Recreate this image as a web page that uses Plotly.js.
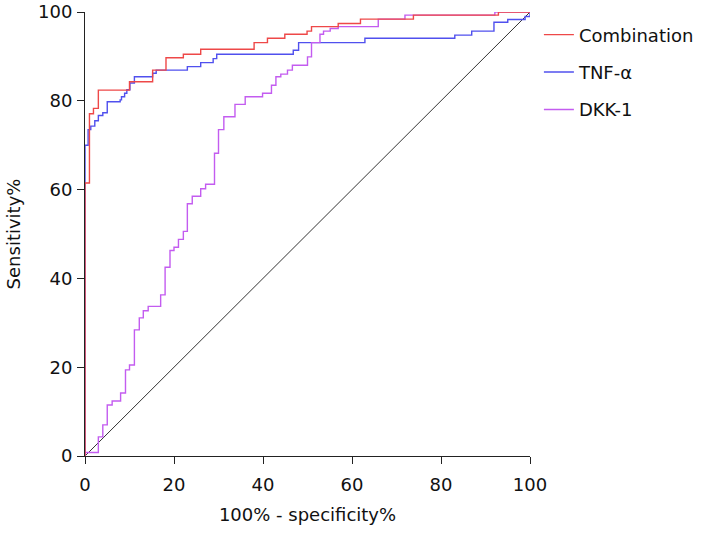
<!DOCTYPE html>
<html>
<head>
<meta charset="utf-8">
<script src="https://cdn.plot.ly/plotly-3.0.1.min.js"></script>
<style>html,body{margin:0;padding:0;background:#fff;}#chart{width:708px;height:533px;}</style>
</head>
<body>
<div id="chart"></div>
<script>
// ROC curves: corner points of step curves (x = 100% - specificity%, y = sensitivity%)
const seriesNames = ["Combination", "TNF-\u03b1", "DKK-1"];
const combinationX = [0, 0, 1.0, 1.9, 3.0, 10.0, 15.2, 18.2, 22.1, 26.0, 38.0, 41.0, 44.9, 49.9, 50.9, 56.9, 61.9, 73.8, 92.9, 100];
const combinationY = [0, 61.5, 77.1, 78.3, 82.4, 84.3, 86.9, 89.7, 90.5, 91.6, 93.1, 94.1, 95.0, 95.7, 96.7, 97.4, 98.4, 99.3, 100, 100];
const tnfX = [0, 0, 0.7, 1.3, 2.2, 3.0, 4.0, 5.0, 7.9, 8.2, 8.9, 9.4, 10.1, 11.1, 15.2, 16.0, 23.0, 26.0, 28.8, 29.6, 46.8, 48.0, 62.9, 83.1, 86.9, 91.9, 95.0, 98.9, 100];
const tnfY = [0, 70, 73.5, 74.3, 75.5, 76.7, 77.3, 79.8, 80.2, 80.9, 81.7, 82.5, 84.0, 85.4, 86.2, 86.9, 87.7, 88.6, 89.5, 90.5, 91.4, 93.1, 94.1, 94.8, 95.7, 97.7, 98.3, 99.0, 100];
const dkkX = [0, 0, 3.0, 4.0, 5.0, 6.1, 8.0, 9.1, 10.0, 11.1, 12.2, 13.1, 14.2, 17.0, 18.0, 19.1, 20.0, 21.0, 22.1, 23.0, 24.1, 26.0, 27.1, 29.1, 30.0, 31.2, 33.7, 36.0, 39.9, 41.9, 42.9, 44.0, 45.5, 46.6, 50.0, 50.9, 52.8, 53.6, 55.1, 56.9, 65.9, 71.9, 92.1, 100];
const dkkY = [0, 0.8, 4.3, 7.0, 11.5, 12.4, 14.2, 19.4, 20.5, 28.4, 31.1, 32.7, 33.7, 36.3, 42.5, 46.3, 47.0, 48.8, 50.6, 56.8, 58.5, 60.2, 61.2, 68.2, 73.5, 76.4, 79.2, 80.9, 81.7, 83.5, 85.4, 86.0, 86.9, 88.0, 89.9, 93.1, 95.0, 95.7, 96.3, 96.7, 98.4, 99.3, 100, 100];
const refX = [0, 100];
const refY = [0, 100];
const tickValues = [0, 20, 40, 60, 80, 100];

const font = {family: "DejaVu Sans, Verdana, sans-serif", size: 18, color: "#111"};

const traces = [
  {x: refX, y: refY, mode: "lines", line: {color: "#333", width: 1}, showlegend: false, hoverinfo: "skip"},
  {x: tnfX, y: tnfY, mode: "lines", name: seriesNames[1], legendrank: 2, legendgroup: "b", line: {color: "#5050ee", width: 1.4, shape: "hv"}},
  {x: dkkX, y: dkkY, mode: "lines", name: seriesNames[2], legendrank: 3, legendgroup: "c", line: {color: "#c35cf0", width: 1.4, shape: "hv"}},
  {x: combinationX, y: combinationY, mode: "lines", name: seriesNames[0], legendrank: 1, legendgroup: "a", line: {color: "#ee4848", width: 1.4, shape: "hv"}}
];

const axisBase = {
  range: [0, 100], showgrid: false, zeroline: false, showline: true,
  linecolor: "#222", linewidth: 1, ticks: "outside", ticklen: 7, tickcolor: "#222",
  tickvals: tickValues, ticktext: tickValues.map(String), tickfont: font, fixedrange: true
};

const layout = {
  width: 708, height: 533,
  margin: {l: 85, r: 178, t: 12, b: 77, autoexpand: false},
  paper_bgcolor: "#fff", plot_bgcolor: "#fff",
  font: font,
  xaxis: Object.assign({}, axisBase, {ticklabelstandoff: 5, title: {text: "100% - specificity%", font: font, standoff: 14}}),
  yaxis: Object.assign({}, axisBase, {ticklabelstandoff: 1, title: {text: "Sensitivity%", font: font, standoff: 12}}),
  legend: {x: 1.02, xanchor: "left", y: 0.99, yanchor: "top", font: font, tracegroupgap: 11, bgcolor: "rgba(0,0,0,0)"},
  showlegend: true
};

Plotly.newPlot("chart", traces, layout, {displayModeBar: false, staticPlot: true});
</script>
</body>
</html>
